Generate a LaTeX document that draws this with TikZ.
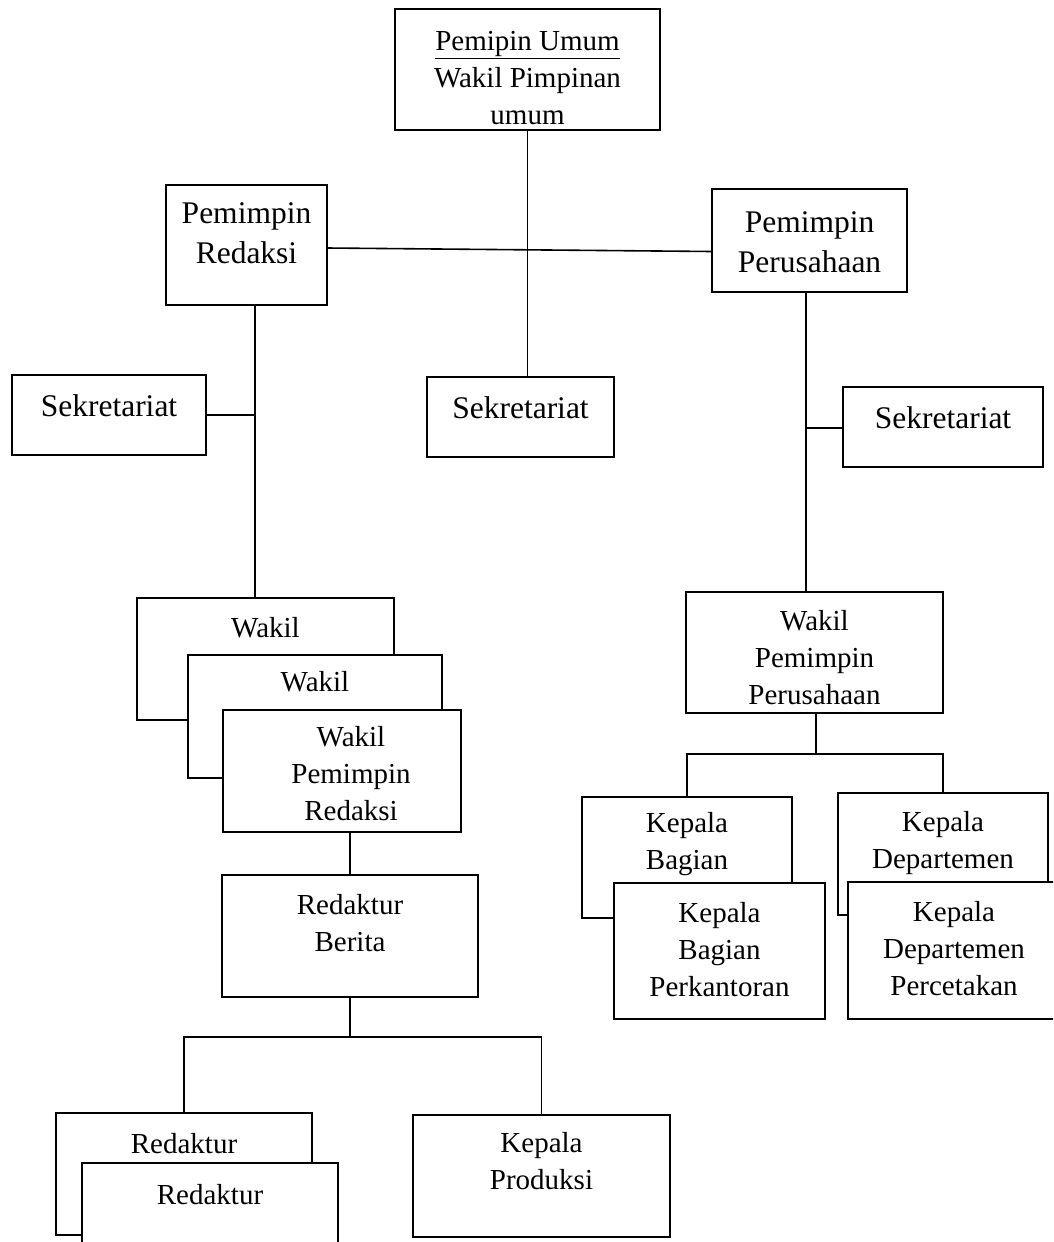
\documentclass[tikz,border=0pt]{standalone}
\usepackage{fontspec}
\setmainfont{Liberation Serif}
\usetikzlibrary{positioning}
\tikzset{
  org-box/.style={draw=black,line width=1.6pt,fill=white,inner sep=0pt,outer sep=0pt},
  org-text/.style={align=center,inner sep=0pt,font={\fontsize{29}{37}\selectfont}},
  org-text-big/.style={align=center,inner sep=0pt,font={\fontsize{31.5}{40}\selectfont}},
  org-line/.style={draw=black,line width=1.6pt},
}

\begin{document}
\begin{tikzpicture}[x=1pt,y=-1pt]
  \clip (0,0) rectangle (1053,1242);
  % pimpinan
  \node[org-box,minimum width=265pt,minimum height=121pt] (pu) at (527.5,69.5) {};
  \node[org-text,below=22pt of pu.north] (pu-t)
    {\underline{Pemipin Umum}\\Wakil Pimpinan\\umum};
  \node[org-box,minimum width=161pt,minimum height=120pt] (pr) at (246.5,245) {};
  \node[org-text-big,below=17pt of pr.north] (pr-t) {Pemimpin\\Redaksi};
  \node[org-box,minimum width=195pt,minimum height=103pt] (pp) at (809.5,240.5) {};
  \node[org-text-big,below=22.5pt of pp.north] (pp-t) {Pemimpin\\Perusahaan};
  % sekretariat
  \node[org-box,minimum width=194pt,minimum height=80pt] (sekl) at (109,415) {};
  \node[org-text-big,below=19pt of sekl.north] (sekl-t) {Sekretariat};
  \node[org-box,minimum width=187pt,minimum height=80pt] (sekm) at (520.5,417) {};
  \node[org-text-big,below=19pt of sekm.north] (sekm-t) {Sekretariat};
  \node[org-box,minimum width=200pt,minimum height=80pt] (sekr) at (943,427) {};
  \node[org-text-big,below=19pt of sekr.north] (sekr-t) {Sekretariat};
  % redaksi
  \node[org-box,minimum width=257pt,minimum height=122pt] (wpr1) at (265.5,659) {};
  \node[org-text,below=19pt of wpr1.north] (wpr1-t) {Wakil};
  \node[org-box,minimum width=254pt,minimum height=123pt] (wpr2) at (315,716.5) {};
  \node[org-text,below=16pt of wpr2.north] (wpr2-t) {Wakil};
  \node[org-box,minimum width=238pt,minimum height=122pt] (wpr3) at (342,771) {};
  \node[org-text,below=16pt of wpr3.north,xshift=9pt] (wpr3-t) {Wakil\\Pemimpin\\Redaksi};
  \node[org-box,minimum width=256pt,minimum height=122pt] (rb) at (350,936) {};
  \node[org-text,below=19pt of rb.north] (rb-t) {Redaktur\\Berita};
  \node[org-box,minimum width=256pt,minimum height=122pt] (red1) at (184,1174) {};
  \node[org-text,below=20pt of red1.north] (red1-t) {Redaktur};
  \node[org-box,minimum width=256pt,minimum height=122pt] (red2) at (210,1224) {};
  \node[org-text,below=21pt of red2.north] (red2-t) {Redaktur};
  \node[org-box,minimum width=257pt,minimum height=122pt] (kp) at (541.5,1176) {};
  \node[org-text,below=17pt of kp.north] (kp-t) {Kepala\\Produksi};
  % perusahaan
  \node[org-box,minimum width=257pt,minimum height=121pt] (wpp) at (814.5,652.5) {};
  \node[org-text,below=18pt of wpp.north] (wpp-t) {Wakil\\Pemimpin\\Perusahaan};
  \node[org-box,minimum width=210pt,minimum height=121pt] (kb1) at (687,857.5) {};
  \node[org-text,below=15pt of kb1.north] (kb1-t) {Kepala\\Bagian};
  \node[org-box,minimum width=211pt,minimum height=136pt] (kb2) at (719.5,951) {};
  \node[org-text,below=19pt of kb2.north] (kb2-t) {Kepala\\Bagian\\Perkantoran};
  \node[org-box,minimum width=210pt,minimum height=122pt] (kd1) at (943,854) {};
  \node[org-text,below=18pt of kd1.north] (kd1-t) {Kepala\\Departemen};
  \node[org-box,minimum width=212pt,minimum height=137pt] (kd2) at (954,950.5) {};
  \node[org-text,below=19pt of kd2.north] (kd2-t) {Kepala\\Departemen\\Percetakan};

  % garis
  \coordinate (rj) at (255,413);
  \coordinate (pj) at (806,428);
  \coordinate (rbus) at (350,1037);
  \coordinate (pbus) at (816,754);
  \draw[org-line] (pu.south) -- (pu.south |- sekm.north);
  \draw[org-line] ([yshift=-3pt]pr.east) -- ([yshift=-11pt]pp.west);
  \draw[org-line] (pr.south -| rj) -- (rj |- wpr1.north);
  \draw[org-line] (sekl.east) -- (sekl.east -| rj);
  \draw[org-line] (pp.south -| pj) -- (pj |- wpp.north);
  \draw[org-line] (pj) -- (pj -| sekr.west);
  \draw[org-line] (rb.north |- wpr3.south) -- (rb.north);
  \draw[org-line] (rb.south) -- (rbus);
  \draw[org-line] (red1.north) |- (rbus) -| (kp.north);
  \draw[org-line] (wpp.south -| pbus) -- (pbus);
  \draw[org-line] (kb1.north) |- (pbus) -| (kd1.north);
\end{tikzpicture}
\end{document}
